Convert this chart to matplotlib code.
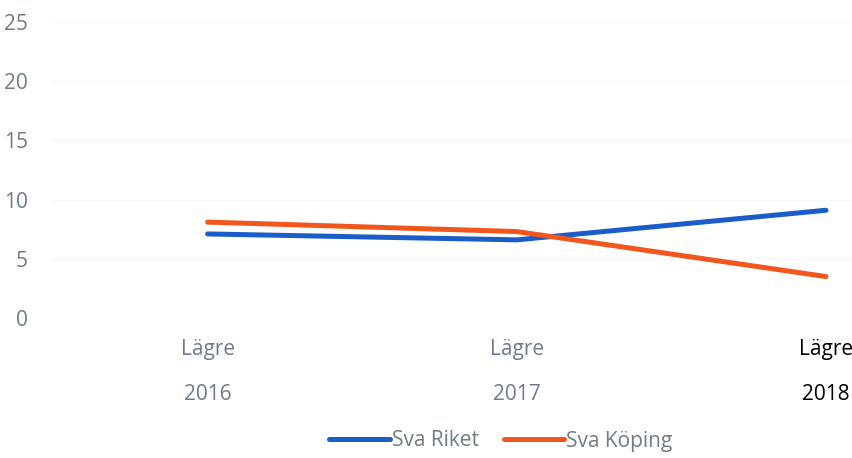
import matplotlib
matplotlib.use("Agg")
import matplotlib.pyplot as plt
import matplotlib.transforms as mtransforms

plt.rcParams['font.family'] = ['Open Sans', 'DejaVu Sans']

# data
years = ["2016", "2017", "2018"]
levels = ["Lägre", "Lägre", "Lägre"]
sva_riket = [7.1, 6.6, 9.1]
sva_koping = [8.1, 7.3, 3.5]

blue = "#1a5cc8"
orange = "#f2561d"
grey = "#6f7a8a"

fig = plt.figure(figsize=(8.52, 4.58), dpi=100)
ax = fig.add_axes([53 / 852, 1 - 318 / 458, 1 - 53 / 852, (318 - 22) / 458])

x = list(range(len(years)))
ax.plot(x, sva_riket, color=blue, lw=3.6, solid_capstyle="round", label="Sva Riket")
ax.plot(x, sva_koping, color=orange, lw=3.6, solid_capstyle="round", label="Sva Köping")

ax.set_ylim(0, 25)
ax.set_yticks(range(0, 26, 5))
ax.set_xlim(-0.5, 2 + 26 / 309)
ax.set_xticks([])
ax.grid(axis="y", color="#f7f7f7", lw=1)
ax.set_axisbelow(True)
for s in ax.spines.values():
    s.set_visible(False)
ax.tick_params(axis="y", length=0, pad=18, labelsize=15, labelcolor=grey)

# two-row category labels under the axis
trans = mtransforms.blended_transform_factory(ax.transData, fig.transFigure)
for i, (lv, yr) in enumerate(zip(levels, years)):
    c = "black" if i == len(years) - 1 else grey
    ax.text(i, 1 - 350 / 458, lv, transform=trans, ha="center", va="center",
            fontsize=15, color=c)
    ax.text(i, 1 - 395 / 458, yr, transform=trans, ha="center", va="center",
            fontsize=15, color=c)

leg = fig.legend(loc="center", bbox_to_anchor=(501 / 852, 1 - 441 / 458), ncol=2,
                 frameon=False, fontsize=15, handlelength=2.9, handletextpad=0.1,
                 columnspacing=1.2)
for t in leg.get_texts():
    t.set_color(grey)

fig.savefig("out.png", dpi=100)
